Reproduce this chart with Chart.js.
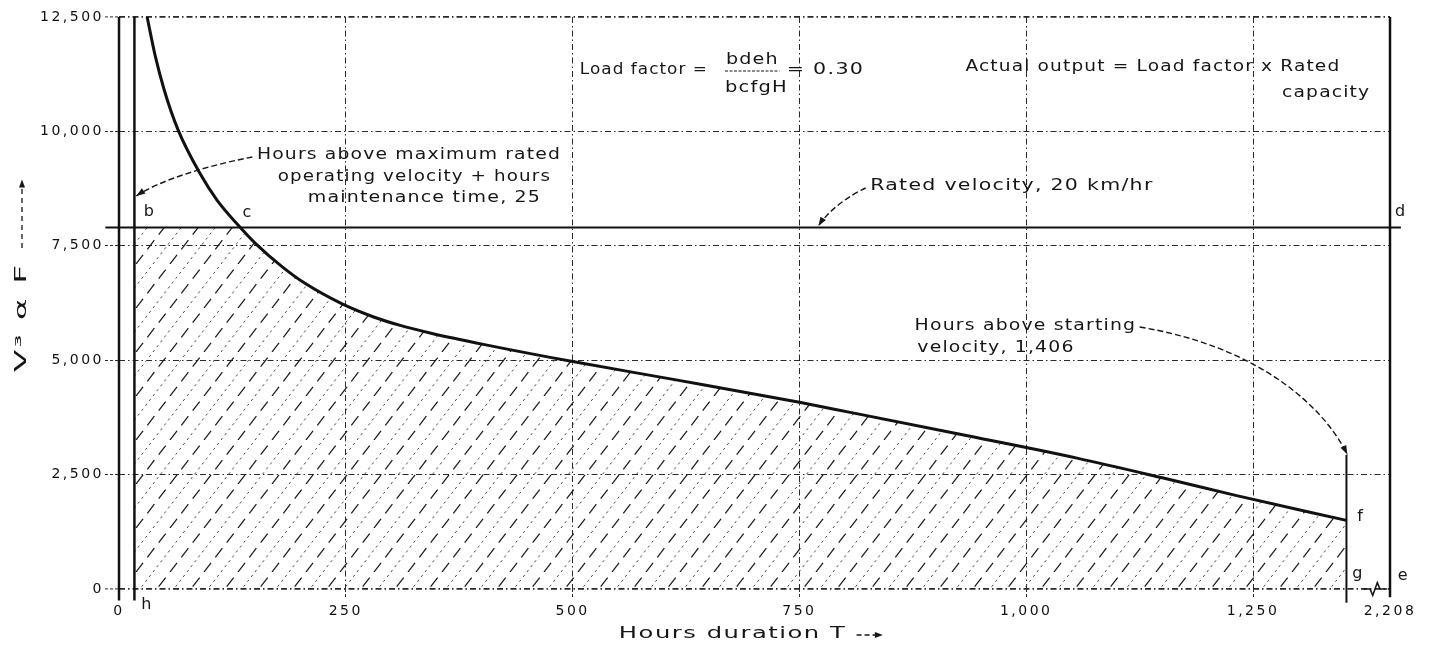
<!DOCTYPE html>
<html><head><meta charset="utf-8">
<script src="https://cdn.jsdelivr.net/npm/chart.js@4.4.0/dist/chart.umd.min.js"></script>
<style>html,body{margin:0;padding:0;background:#fff;}</style>
</head><body>
<canvas id="c" width="1437" height="647"></canvas>
<script>
// ---------------- data ----------------
const curveHours  = [31, 40, 50, 65, 89, 108, 131, 150, 180, 205, 246, 280, 310, 344, 403, 500, 614, 750, 806, 927, 1056, 1150, 1232, 1353];
const curveValues = [12500, 11645, 10895, 10040, 9090, 8500, 7960, 7560, 7040, 6680, 6230, 5950, 5760, 5590, 5340, 4970, 4570, 4080, 3860, 3380, 2860, 2430, 2040, 1500];
const ratedValue = 7900;      // rated velocity line b-c-d
const hHours = 17;            // line b-h
const gHours = 1353;          // line f-g
const gTopValue = 2930;       // top of f-g line (arrow target)
const eHours = 1401;          // right border d-e (broken axis, labelled 2,208)
const yMax = 12500;
const xTickValues = [0, 250, 500, 750, 1000, 1250, 1401];
const xTickLabels = ['0', '250', '500', '750', '1,000', '1,250', '2,208'];
const yTickValues = [0, 2500, 5000, 7500, 10000, 12500];
const yTickLabels = ['0', '2,500', '5,000', '7,500', '10,000', '12,500'];

// ---------------- annotations (data units) ----------------
const notes = [
  {t:'Hours above maximum rated', x0:152, x1:486, y:9484},
  {t:'operating velocity + hours', x0:175, x1:475, y:9003},
  {t:'maintenance time, 25', x0:208, x1:464, y:8545},
  {t:'Load factor =', x0:508, x1:648, y:11342},
  {t:'bdeh', x0:669, x1:726, y:11560},
  {t:'bcfgH', x0:668, x1:736, y:10948},
  {t:'= 0.30', x0:736, x1:820, y:11342},
  {t:'Actual output = Load factor x Rated', x0:933, x1:1345, y:11407},
  {t:'capacity', x0:1282, x1:1378, y:10839},
  {t:'Rated velocity, 20 km/hr', x0:828, x1:1139, y:8807},
  {t:'Hours above starting', x0:877, x1:1120, y:5747},
  {t:'velocity, 1,406', x0:880, x1:1052, y:5267}
];
const pointLabels = [
  {t:'b', x:33, y:8239}, {t:'c', x:141, y:8217}, {t:'d', x:1412, y:8239},
  {t:'e', x:1415, y:284}, {t:'f', x:1368, y:1573}, {t:'g', x:1365, y:328}, {t:'h', x:30, y:-350}
];
const leaders = [
  [[147,9440],[100,9266],[45,8938],[19,8588]],
  [[823,8763],[806,8610],[782,8282],[771,7933]],
  [[1125,5725],[1247,5332],[1324,4130],[1354,2940]]
];
const fracBar = {x0:668, x1:728, y:11320};
const squiggle = [[1372,0],[1379,0],[1382,-140],[1387,140],[1390,0],[1398,0]];
const FONT = '"DejaVu Sans", sans-serif';

// ---------------- derived series ----------------
const curvePts = curveHours.map((x, i) => ({x, y: curveValues[i]}));
let cHours = curveHours[0];
for (let i = 1; i < curvePts.length; i++) {
  const a = curvePts[i-1], b = curvePts[i];
  if (a.y >= ratedValue && b.y <= ratedValue) {
    cHours = a.x + (a.y - ratedValue) / (a.y - b.y) * (b.x - a.x); break;
  }
}
const hatchPts = [{x:hHours, y:ratedValue}, {x:cHours, y:ratedValue}].concat(curvePts.filter(p => p.x > cHours));

function makeHatch() {
  const w = 34, h = 44, L = Math.hypot(w, h);
  const c = document.createElement('canvas'); c.width = w; c.height = h;
  const g = c.getContext('2d');
  g.strokeStyle = '#1c1c1c'; g.lineWidth = 1.25; g.setLineDash([L/3*0.62, L/3*0.38]);
  for (const k of [-1, 0, 1]) { g.beginPath(); g.moveTo(k*w, h); g.lineTo(k*w + w, 0); g.stroke(); }
  g.strokeStyle = '#4a4a4a'; g.lineWidth = 1; g.setLineDash([2.4, L/9 - 2.4]);
  for (const k of [-1, 0, 1]) { g.beginPath(); g.moveTo(k*w + w/2, h); g.lineTo(k*w + w/2 + w, 0); g.stroke(); }
  return g.createPattern(c, 'repeat');
}

const lineDs = (data, width, extra) => Object.assign({
  data, showLine:true, borderColor:'#111', borderWidth:width, pointRadius:0, fill:false, clip:false, tension:0
}, extra || {});

const spacingPlugin = {
  id:'spacing',
  beforeDraw(chart) { chart.ctx.letterSpacing = '2.5px'; },
  afterDraw(chart) { chart.ctx.letterSpacing = '0px'; }
};

// text stretched horizontally to span xL..xR
function fitText(ctx, str, xL, xR, yC, size) {
  ctx.font = size + 'px ' + FONT;
  ctx.letterSpacing = '1px';
  const w = ctx.measureText(str).width - 1;
  const sx = (xR - xL) / w;
  ctx.textAlign = 'left'; ctx.textBaseline = 'middle';
  ctx.save(); ctx.translate(xL, yC); ctx.scale(sx, 1);
  ctx.fillText(str, 0, 0);
  ctx.restore();
  ctx.letterSpacing = '0px';
}

function arrowHead(ctx, fx, fy, tx, ty, len, half) {
  const a = Math.atan2(ty - fy, tx - fx);
  ctx.save(); ctx.setLineDash([]);
  ctx.beginPath();
  ctx.moveTo(tx, ty);
  ctx.lineTo(tx - len*Math.cos(a) + half*Math.sin(a), ty - len*Math.sin(a) - half*Math.cos(a));
  ctx.lineTo(tx - len*Math.cos(a) - half*Math.sin(a), ty - len*Math.sin(a) + half*Math.cos(a));
  ctx.closePath(); ctx.fill(); ctx.restore();
}

const notesPlugin = {
  id:'notes',
  afterDraw(chart) {
    const ctx = chart.ctx, xs = chart.scales.x, ys = chart.scales.y;
    const X = v => xs.getPixelForValue(v), Y = v => ys.getPixelForValue(v);
    ctx.save();
    ctx.fillStyle = '#161616'; ctx.strokeStyle = '#161616';
    notes.forEach(n => fitText(ctx, n.t, X(n.x0), X(n.x1), Y(n.y), 16));
    // fraction bar
    ctx.lineWidth = 1.2; ctx.setLineDash([3, 1.5]);
    ctx.beginPath(); ctx.moveTo(X(fracBar.x0), Y(fracBar.y)); ctx.lineTo(X(fracBar.x1), Y(fracBar.y)); ctx.stroke();
    // point letters
    ctx.font = '16px ' + FONT; ctx.textAlign = 'center'; ctx.textBaseline = 'middle';
    pointLabels.forEach(p => ctx.fillText(p.t, X(p.x), Y(p.y)));
    // leaders
    ctx.lineWidth = 1.4; ctx.setLineDash([6, 3]);
    leaders.forEach(L => {
      const p = L.map(q => [X(q[0]), Y(q[1])]);
      ctx.beginPath(); ctx.moveTo(p[0][0], p[0][1]);
      ctx.bezierCurveTo(p[1][0], p[1][1], p[2][0], p[2][1], p[3][0], p[3][1]);
      ctx.stroke();
      arrowHead(ctx, p[2][0], p[2][1], p[3][0], p[3][1], 9, 3.2);
    });
    // axis break squiggle
    ctx.setLineDash([]); ctx.lineWidth = 1.6;
    ctx.beginPath();
    squiggle.forEach((q, i) => { const px = X(q[0]), py = Y(q[1]); if (i) ctx.lineTo(px, py); else ctx.moveTo(px, py); });
    ctx.stroke();
    // x axis title
    const ca = chart.chartArea;
    const ty = ca.bottom + 45;
    fitText(ctx, 'Hours duration T', X(551), X(800), ty, 16);
    ctx.lineWidth = 1.3; ctx.setLineDash([5, 3]);
    ctx.beginPath(); ctx.moveTo(X(813), ty + 1); ctx.lineTo(X(836), ty + 1); ctx.stroke();
    arrowHead(ctx, X(820), ty + 1, X(842), ty + 1, 8, 3);
    // y axis title (rotated)
    const tx = ca.left - 97;
    const y0 = Y(4742), y1 = Y(7080);
    ctx.save();
    ctx.translate(tx, (y0 + y1) / 2); ctx.rotate(-Math.PI / 2);
    fitText(ctx, 'V³ α F', -(y0 - y1) / 2, (y0 - y1) / 2, 0, 16);
    ctx.restore();
    ctx.lineWidth = 1.3; ctx.setLineDash([5, 4]);
    ctx.beginPath(); ctx.moveTo(tx, Y(7450)); ctx.lineTo(tx, Y(8800)); ctx.stroke();
    arrowHead(ctx, tx, Y(8600), tx, Y(8950), 8, 3);
    ctx.restore();
  }
};

const gridDash = [6, 3, 1.5, 3];
new Chart(document.getElementById('c'), {
  type: 'scatter',
  data: { datasets: [
    lineDs(curvePts, 3, {cubicInterpolationMode:'monotone', clip:true}),
    lineDs([{x:-15, y:ratedValue}, {x:eHours + 12, y:ratedValue}], 2),
    lineDs([{x:0, y:-250}, {x:0, y:yMax}], 2.5),
    lineDs([{x:hHours, y:-250}, {x:hHours, y:yMax}], 2.5),
    lineDs([{x:gHours, y:-300}, {x:gHours, y:gTopValue}], 2),
    lineDs([{x:eHours, y:-180}, {x:eHours, y:yMax}], 2.5),
    {data: hatchPts, showLine:true, pointRadius:0, borderWidth:0, borderColor:'rgba(0,0,0,0)',
     cubicInterpolationMode:'monotone', fill:'origin', backgroundColor: makeHatch(), order: 10}
  ]},
  options: {
    responsive:false, animation:false, devicePixelRatio:1,
    layout:{padding:{left:0, right:47, top:17, bottom:0}},
    plugins:{legend:{display:false}, tooltip:{enabled:false}},
    scales:{
      x:{
        type:'linear', min:0, max:eHours,
        afterBuildTicks: s => { s.ticks = xTickValues.map(v => ({value:v})); },
        afterFit: s => { s.height = 58; },
        ticks:{autoSkip:false, maxRotation:0, minRotation:0, padding:5, color:'#111',
          font:{family:FONT, size:14},
          callback: v => { const i = xTickValues.indexOf(v); return i >= 0 ? xTickLabels[i] : ''; }},
        grid:{color:'#2a2a2a', lineWidth:1, tickLength:9, tickColor:'#2a2a2a', tickWidth:1, tickBorderDash:[3,2]},
        border:{display:false, dash:gridDash}
      },
      y:{
        type:'linear', min:0, max:yMax,
        afterBuildTicks: s => { s.ticks = yTickValues.map(v => ({value:v})); },
        afterFit: s => { s.width = 119; },
        ticks:{padding:1, color:'#111', font:{family:FONT, size:14},
          callback: v => { const i = yTickValues.indexOf(v); return i >= 0 ? yTickLabels[i] : ''; }},
        grid:{color:'#2a2a2a', tickLength:14, tickColor:'#2a2a2a', tickWidth:1, tickBorderDash:[3,2],
          lineWidth: c => (c.tick && (c.tick.value === 0 || c.tick.value === yMax)) ? 1.8 : 1},
        border:{display:false, dash:gridDash}
      }
    }
  },
  plugins:[spacingPlugin, notesPlugin]
});
</script>
</body></html>
